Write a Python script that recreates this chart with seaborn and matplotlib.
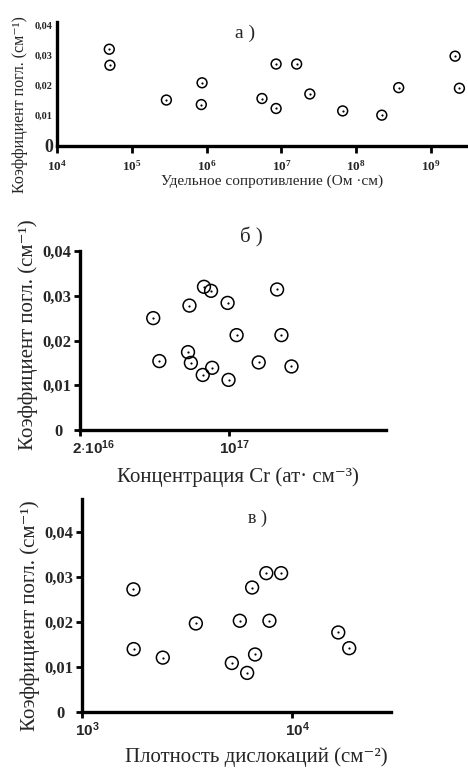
import numpy as np
import pandas as pd
import matplotlib
matplotlib.use("Agg")
import matplotlib.pyplot as plt
import matplotlib.transforms as mtransforms
import seaborn as sns

# ---- data ----
# panel a: resistivity (Ohm*cm) vs absorption coefficient (cm^-1)
res_x = [5.0e4, 5.1e4, 2.9e5, 8.7e5, 8.5e5, 5.5e6, 8.5e6, 8.5e6, 1.6e7, 2.4e7,
         6.6e7, 2.2e8, 3.7e8, 2.1e9, 2.4e9]
res_y = [0.032, 0.0267, 0.0152, 0.0209, 0.0137, 0.0157, 0.0271, 0.0124, 0.0271, 0.0172,
         0.0116, 0.0102, 0.0193, 0.0297, 0.0191]

# panel b: Cr concentration (at/cm^3) vs absorption coefficient
cr_x = [4.4e16, 4.7e16, 6.5e16, 6.4e16, 6.6e16, 7.6e16, 8.2e16, 7.5e16, 8.3e16, 9.8e16,
        9.9e16, 1.08e17, 1.37e17, 1.67e17, 1.75e17, 1.95e17]
cr_y = [0.0250, 0.0154, 0.0278, 0.0174, 0.0150, 0.0320, 0.0311, 0.0123, 0.0139, 0.0284,
        0.0112, 0.0212, 0.0151, 0.0314, 0.0212, 0.0142]

# panel c: dislocation density (cm^-2) vs absorption coefficient
dis_x = [1755, 1760, 2420, 3475, 5150, 5620, 6090, 6430, 6640, 7510, 7770, 8830, 16500, 18600]
dis_y = [0.0273, 0.0140, 0.0121, 0.0197, 0.0109, 0.0203, 0.0087, 0.0277, 0.0128, 0.0309,
         0.0203, 0.0309, 0.0177, 0.0142]

# tick labels
a_xticks = [1e4, 1e5, 1e6, 1e7, 1e8, 1e9]
a_xlabels = [r"$\mathrm{10^{4}}$", r"$\mathrm{10^{5}}$", r"$\mathrm{10^{6}}$",
             r"$\mathrm{10^{7}}$", r"$\mathrm{10^{8}}$", r"$\mathrm{10^{9}}$"]
a_yticks = [0, 0.01, 0.02, 0.03, 0.04]
a_ylabels = ["0", "0,01", "0,02", "0,03", "0,04"]
b_xticks = [2e16, 1e17]
b_xlabels = [r"$\mathbf{2{\cdot}10^{16}}$", r"$\mathbf{10^{17}}$"]
c_xticks = [1e3, 1e4]
c_xlabels = [r"$\mathbf{10^{3}}$", r"$\mathbf{10^{4}}$"]
yticks = [0, 0.01, 0.02, 0.03, 0.04]
ylabels = ["0", "0,01", "0,02", "0,03", "0,04"]

YLABEL = "Коэффициент погл. (см⁻¹)"
SERIF = ["Liberation Serif", "DejaVu Serif"]
SANS = ["Liberation Sans", "DejaVu Sans"]

sns.set_theme(style="white")
plt.rcParams["font.family"] = SERIF
plt.rcParams["mathtext.fontset"] = "custom"
plt.rcParams["mathtext.rm"] = "Liberation Serif:bold"
plt.rcParams["mathtext.bf"] = "Liberation Sans:bold"

W, H = 468, 769
fig = plt.figure(figsize=(W / 100, H / 100), dpi=100)


def px_axes(l, t, r, b):
    return fig.add_axes([l / W, 1 - b / H, (r - l) / W, (b - t) / H])


def points(ax, x, y, s):
    df = pd.DataFrame({"x": x, "y": y})
    sns.scatterplot(data=df, x="x", y="y", ax=ax, marker="o", s=s,
                    facecolors="none", edgecolor="black", linewidth=1.1, zorder=3)
    sns.scatterplot(data=df, x="x", y="y", ax=ax, marker="o", s=2.5,
                    color="black", edgecolor="black", linewidth=0, zorder=4)


def style(ax, lw=2.4):
    for side in ["top", "right"]:
        ax.spines[side].set_visible(False)
    for side in ["left", "bottom"]:
        ax.spines[side].set_linewidth(lw)
        ax.spines[side].set_color("black")
    ax.set_xlabel("")
    ax.set_ylabel("")
    ax.minorticks_off()
    ax.tick_params(axis="both", which="major", direction="out", length=4,
                   width=2, color="black", pad=2, bottom=True, left=True)


def shift(label, dx_px):
    label.set_transform(label.get_transform() +
                        mtransforms.ScaledTranslation(dx_px / 100, 0, fig.dpi_scale_trans))


# ---- panel a ----
ax1 = px_axes(57, 22, 468, 146)
points(ax1, res_x, res_y, 50)
ax1.set_xscale("log")
ax1.set_xlim(1e4, 10 ** 9.495)
ax1.set_ylim(0, 0.041)
style(ax1)
ax1.set_xticks(a_xticks)
ax1.set_xticklabels(a_xlabels, fontsize=9.5)
ax1.set_yticks(a_yticks)
ax1.set_yticklabels(a_ylabels, fontfamily=SERIF, fontweight="bold", fontsize=7.5)
ax1.get_yticklabels()[0].set_fontsize(13)
ax1.tick_params(axis="y", length=0, pad=3)
ax1.tick_params(axis="x", length=5, pad=4)
ax1.minorticks_off()
fig.text(245 / W, 1 - 33 / H, "а )", ha="center", va="center", fontsize=14, family=SERIF)
fig.text(20 / W, 1 - 105 / H, YLABEL, rotation=90, ha="center", va="center",
         fontsize=11.5, family=SERIF)
fig.text(272 / W, 1 - 181 / H, "Удельное сопротивление (Ом ·см)", ha="center",
         va="center", fontsize=11, family=SERIF)

# ---- panel b ----
ax2 = px_axes(80, 251, 386, 430)
points(ax2, cr_x, cr_y, 85)
ax2.set_xscale("log")
ax2.set_xlim(2e16, 10 ** 17.732)
ax2.set_ylim(0, 0.04)
style(ax2)
ax2.set_xticks(b_xticks)
ax2.set_xticklabels(b_xlabels, fontsize=11)
ax2.set_yticks(yticks)
ax2.set_yticklabels(ylabels, fontfamily=SERIF, fontweight="bold", fontsize=12)
ax2.minorticks_off()
lab0 = ax2.get_xticklabels()[0]
lab0.set_ha("left")
shift(lab0, -8)
shift(ax2.get_xticklabels()[1], 5)
shift(ax2.get_yticklabels()[0], -9)
fig.text(251 / W, 1 - 237 / H, "б )", ha="center", va="center", fontsize=15, family=SERIF)
fig.text(28 / W, 1 - 335 / H, YLABEL, rotation=90, ha="center", va="center",
         fontsize=15, family=SERIF)
fig.text(238 / W, 1 - 477 / H, "Концентрация Cr (ат· см⁻³)", ha="center", va="center",
         fontsize=15, family=SERIF)

# ---- panel c ----
ax3 = px_axes(82, 499, 391, 712)
points(ax3, dis_x, dis_y, 85)
ax3.set_xscale("log")
ax3.set_xlim(1e3, 10 ** 4.468)
ax3.set_ylim(0, 0.0474)
style(ax3)
ax3.set_xticks(c_xticks)
ax3.set_xticklabels(c_xlabels, fontsize=11)
ax3.set_yticks(yticks)
ax3.set_yticklabels(ylabels, fontfamily=SERIF, fontweight="bold", fontsize=12)
ax3.minorticks_off()
for lab in ax3.get_xticklabels():
    shift(lab, 5)
shift(ax3.get_yticklabels()[0], -9)
fig.text(258 / W, 1 - 518 / H, "в )", ha="center", va="center", fontsize=13,
         family=SERIF)
fig.text(30 / W, 1 - 616 / H, YLABEL, rotation=90, ha="center", va="center",
         fontsize=15, family=SERIF)
fig.text(256 / W, 1 - 757 / H, "Плотность дислокаций (см⁻²)", ha="center", va="center",
         fontsize=15, family=SERIF)

fig.savefig("out.png", dpi=100, facecolor="white")
